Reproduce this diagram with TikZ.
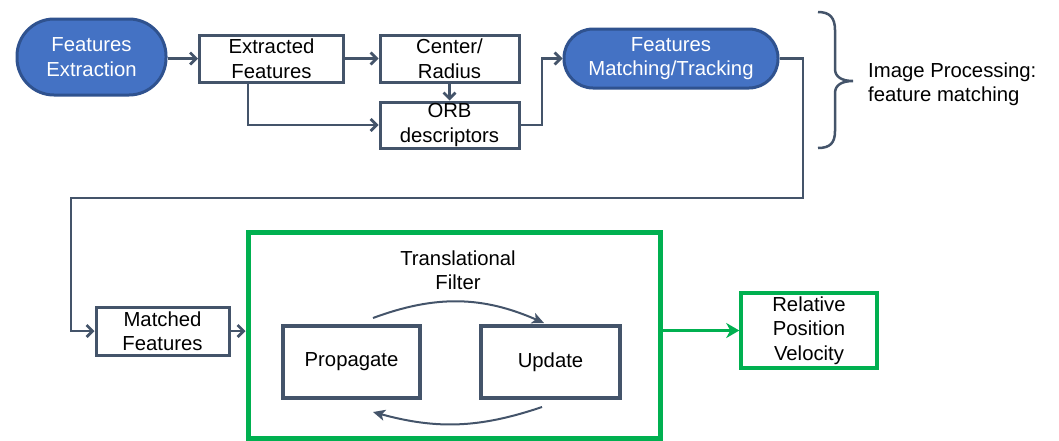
\documentclass[tikz,border=0pt]{standalone}
\usepackage{fontspec}
\setmainfont{Liberation Sans}
\usetikzlibrary{arrows.meta,positioning}
\definecolor{bfill}{HTML}{4472C4}
\definecolor{bdraw}{HTML}{2F528F}
\definecolor{slate}{HTML}{44546A}
\definecolor{gr}{HTML}{00B050}
\begin{document}
\begin{tikzpicture}[x=1pt,y=-1pt,
  every node/.style={font=\fontsize{20.3}{24.5}\selectfont, inner sep=0pt, align=center},
  stadium/.style={draw=bdraw, fill=bfill, line width=3pt, text=white, rounded corners=#1},
  plainbox/.style={draw=slate, line width=3pt, fill=white},
  thickbox/.style={draw=slate, line width=3.6pt, fill=white},
  conn/.style={draw=slate, line width=2.8pt, -{Straight Barb[length=6pt,width=12pt,line width=2.8pt]}},
  arcarr/.style={draw=slate, line width=2pt, -{Stealth[length=12pt,width=11pt,inset=3pt]}},
  greenbox/.style={draw=gr, line width=3.5pt, fill=white},
]
\useasboundingbox (0,0) rectangle (1059,440);

% top row
\node[stadium=37pt, minimum width=149pt, minimum height=76pt] (fe) at (91.5,57) {Features\\Extraction};
\node[plainbox, minimum width=144pt, minimum height=47pt] (ef) at (271.5,58.5) {Extracted\\Features};
\node[plainbox, minimum width=139pt, minimum height=47pt] (cr) at (449.5,58.5) {Center/\\Radius};
\node[plainbox, minimum width=139pt, minimum height=46pt] (orb) at (449.5,125) {ORB\\descriptors};
\node[stadium=29pt, minimum width=214pt, minimum height=59pt] (fm) at (671,58.5) {Features\\Matching/Tracking};

% brace and label
\draw[draw=slate, line width=2.5pt] (818,12) .. controls (830,12) and (835,18) .. (835,30) -- (835,69)
  .. controls (835,77) and (842,81) .. (853,81)
  .. controls (842,81) and (835,85) .. (835,93) -- (835,131)
  .. controls (835,143) and (830,148) .. (818,148);
\node[anchor=west, align=left] (ip) at (868,84) {Image Processing:\\feature matching};

% bottom row
\node[plainbox, minimum width=133pt, minimum height=48pt] (mf) at (162.5,331) {Matched\\Features};
\node[draw=gr, line width=5pt, minimum width=412pt, minimum height=206pt] (tf) at (454,335) {};
\node (tft) at (458,270) {Translational\\Filter};
\node[thickbox, minimum width=137pt, minimum height=72pt] (prop) at (351.5,362) {Propagate};
\node[thickbox, minimum width=139pt, minimum height=72pt] (upd) at (550.5,362) {Update};
\node[greenbox, minimum width=136pt, minimum height=75pt] (rel) at (809,330.5) {Relative\\Position\\Velocity};

% connectors
\coordinate (efb) at (248,82);
\coordinate (j1) at (542,125);
\coordinate (c1) at (803,58.5);
\coordinate (c2) at (803,198);
\coordinate (c3) at (71,198);
\coordinate (ts) at (373,318);
\coordinate (te) at (544,323);
\coordinate (bs) at (542,407);
\coordinate (be) at (373,412);

\draw[conn] (fe.east |- ef.west) -- (ef.west);
\draw[conn] (ef.east) -- (cr.west);
\draw[conn] (efb) |- (orb.west);
\draw[conn] (cr.south) -- (orb.north);
\draw[conn] (orb.east) -- (j1) |- (fm.west);
\draw[conn] (fm.east) -- (c1) -- (c2) -- (c3) |- (mf.west);
\draw[conn] (mf.east) -- (tf.west |- mf.east);
\draw[draw=gr, line width=2.8pt, -{Stealth[length=13pt,width=15pt,inset=4pt]}] (tf.east |- rel.west) -- (rel.west);
\draw[arcarr] (ts) to[bend left=22] (te);
\draw[arcarr] (bs) to[bend left=17] (be);
\end{tikzpicture}
\end{document}
